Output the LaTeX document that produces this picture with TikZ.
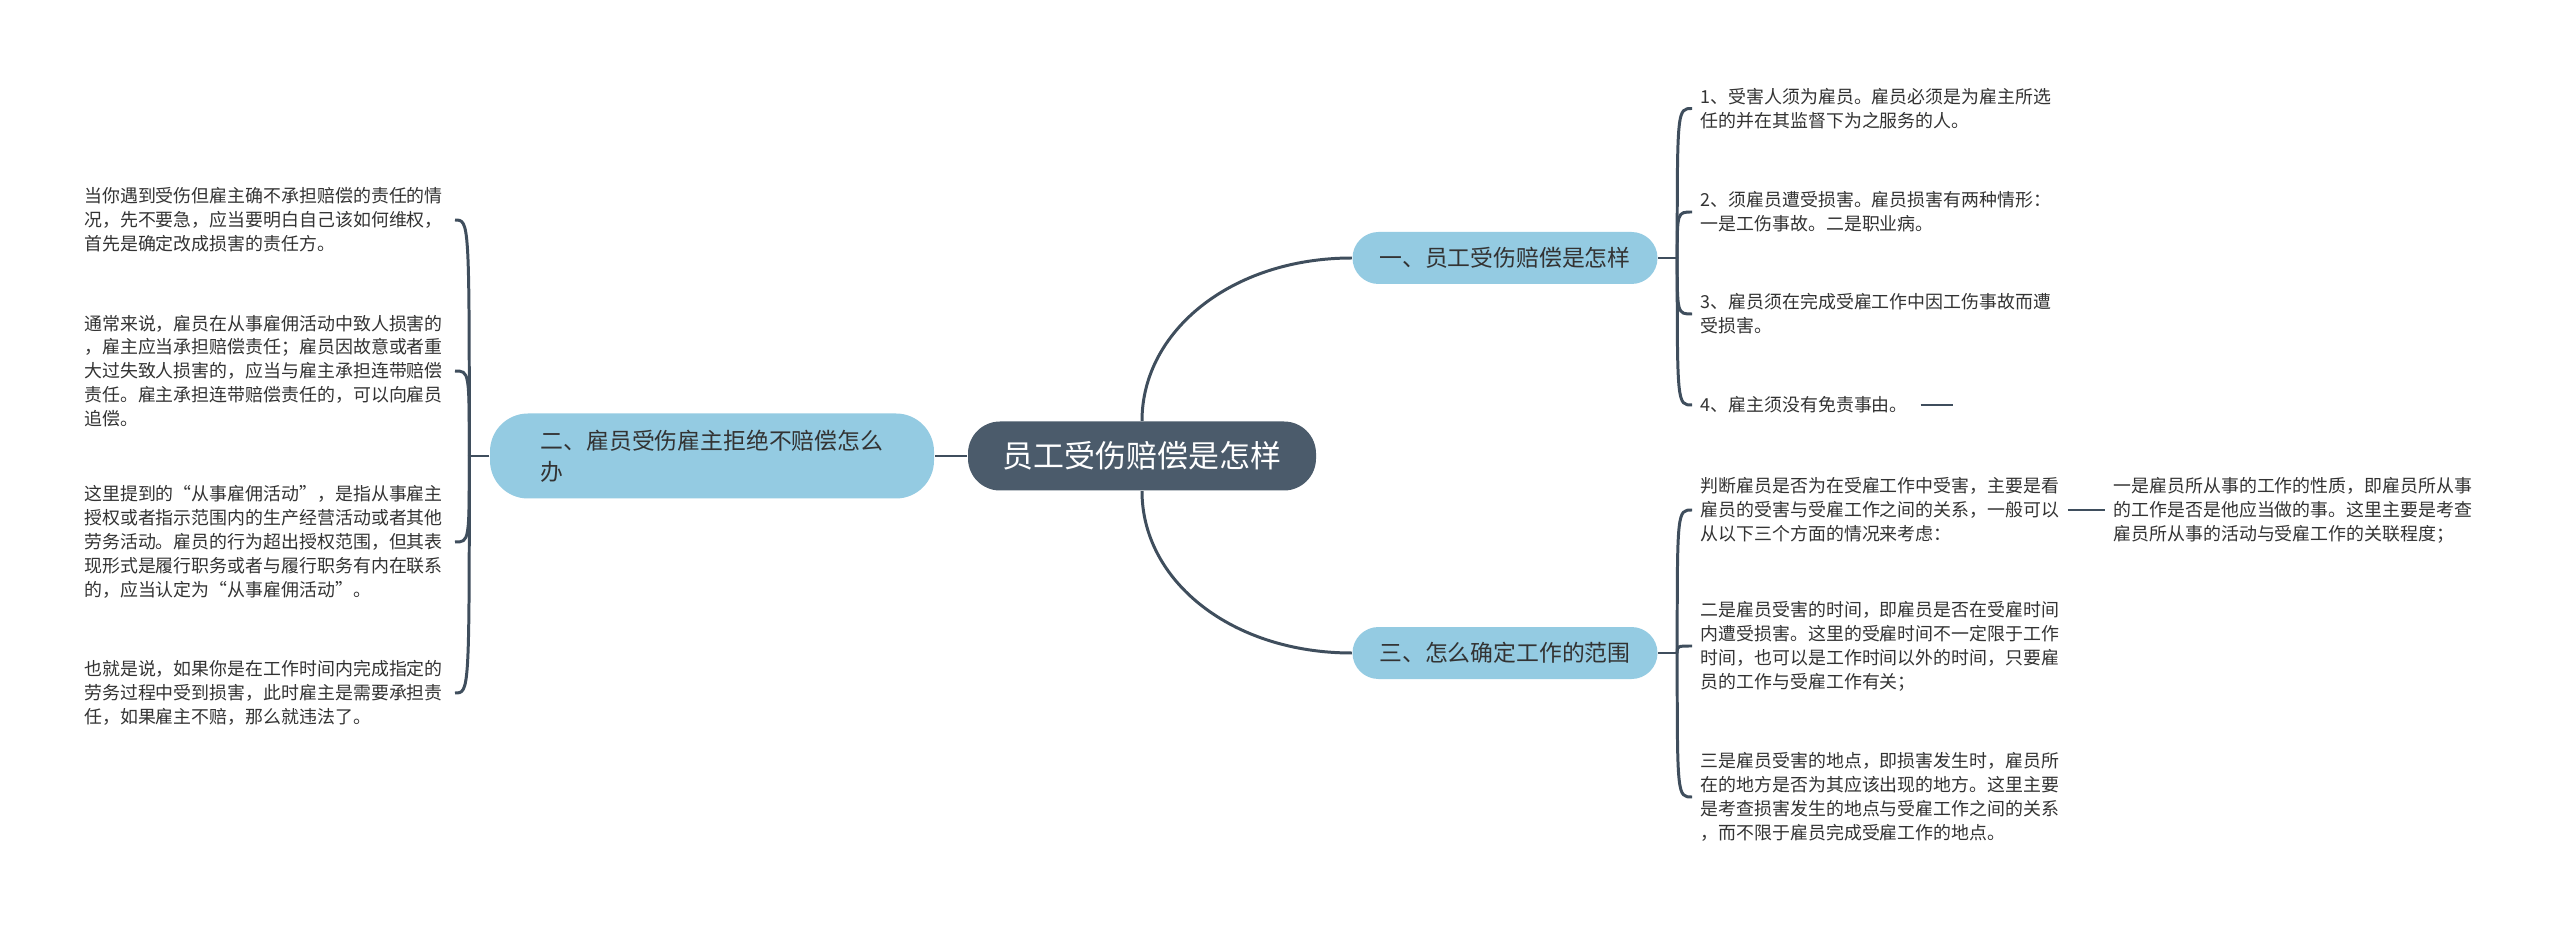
\documentclass[tikz,border=0pt]{standalone}
\usepackage{fontspec}
\setmainfont{Noto Sans CJK SC}
\usepackage{tikz}
\usetikzlibrary{
positioning,
calc
}
\definecolor{MapSlate}{HTML}{4B5B6B}
\definecolor{MapSky}{HTML}{94CBE2}
\definecolor{MapLine}{HTML}{3F4E5D}
\definecolor{MapInk}{HTML}{333333}

\begin{document}
\begin{tikzpicture}[
rootnode/.style={fill=MapSlate, text=white, rounded corners=0.32cm, minimum width=3.48cm, minimum height=0.69cm, inner sep=0pt, font={\fontsize{8.8}{10}\selectfont}},
topicnode/.style={fill=MapSky, text=MapInk, rounded corners=0.26cm, minimum width=3.05cm, minimum height=0.52cm, inner sep=0pt, font={\fontsize{6.5}{8.8}\selectfont}},
leafnode/.style={text=MapInk, align=left, inner xsep=0.08cm, inner ysep=0pt, font={\fontsize{5.1}{6.8}\selectfont}},
leftleaf/.style={leafnode, anchor=east, text width=3.62cm},
maplink/.style={draw=MapLine, line width=0.85pt}
]
\path[fill=white] (0,0) rectangle (25.6,9.29);
\node[rootnode] (root) at (11.42,4.73) {员工受伤赔偿是怎样};
\node[topicnode, minimum width=4.44cm, minimum height=0.85cm, rounded corners=0.38cm, align=left] (t2) at (7.12,4.73) {二、雇员受伤雇主拒绝不赔偿怎么\\办};
\node[topicnode] (t1) at (15.05,6.71) {一、员工受伤赔偿是怎样};
\node[topicnode] (t3) at (15.05,2.76) {三、怎么确定工作的范围};

\node[leafnode, anchor=west] (r1) at (16.92,8.205) {1、受害人须为雇员。雇员必须是为雇主所选\\任的并在其监督下为之服务的人。};
\node[leafnode, anchor=west] (r2) at (16.92,7.17) {2、须雇员遭受损害。雇员损害有两种情形：\\一是工伤事故。二是职业病。};
\node[leafnode, anchor=west] (r3) at (16.92,6.15) {3、雇员须在完成受雇工作中因工伤事故而遭\\受损害。};
\node[leafnode, anchor=west] (r4) at (16.92,5.24) {4、雇主须没有免责事由。};
\coordinate (r4x) at ($(r4.east)+(0.36,0)$);

\node[leafnode, anchor=west] (r5) at (16.92,4.19) {判断雇员是否为在受雇工作中受害，主要是看\\雇员的受害与受雇工作之间的关系，一般可以\\从以下三个方面的情况来考虑：};
\node[leafnode, anchor=west] (r6) at (16.92,2.83) {二是雇员受害的时间，即雇员是否在受雇时间\\内遭受损害。这里的受雇时间不一定限于工作\\时间，也可以是工作时间以外的时间，只要雇\\员的工作与受雇工作有关；};
\node[leafnode, anchor=west] (r7) at (16.92,1.32) {三是雇员受害的地点，即损害发生时，雇员所\\在的地方是否为其应该出现的地方。这里主要\\是考查损害发生的地点与受雇工作之间的关系\\，而不限于雇员完成受雇工作的地点。};
\node[leafnode, right=0.37cm of r5] (r5a) {一是雇员所从事的工作的性质，即雇员所从事\\的工作是否是他应当做的事。这里主要是考查\\雇员所从事的活动与受雇工作的关联程度；};

\node[leftleaf] (la) at (4.55,7.09) {当你遇到受伤但雇主确不承担赔偿的责任的情\\况，先不要急，应当要明白自己该如何维权，\\首先是确定改成损害的责任方。};
\node[leftleaf] (lb) at (4.55,5.58) {通常来说，雇员在从事雇佣活动中致人损害的\\，雇主应当承担赔偿责任；雇员因故意或者重\\大过失致人损害的，应当与雇主承担连带赔偿\\责任。雇主承担连带赔偿责任的，可以向雇员\\追偿。};
\node[leftleaf] (lc) at (4.55,3.87) {这里提到的“从事雇佣活动”，是指从事雇主\\授权或者指示范围内的生产经营活动或者其他\\劳务活动。雇员的行为超出授权范围，但其表\\现形式是履行职务或者与履行职务有内在联系\\的，应当认定为“从事雇佣活动”。};
\node[leftleaf] (ld) at (4.55,2.36) {也就是说，如果你是在工作时间内完成指定的\\劳务过程中受到损害，此时雇主是需要承担责\\任，如果雇主不赔，那么就违法了。};

\draw[maplink] (root.west) -- (t2.east);
\draw[maplink] (root.north) .. controls +(0,0.9) and +(-1.2,0) .. (t1.west);
\draw[maplink] (root.south) .. controls +(0,-0.9) and +(-1.2,0) .. (t3.west);

\coordinate (j1) at ($(t1.east)+(0.19,0)$);
\draw[maplink] (t1.east) -- (j1);
\draw[maplink] (j1) .. controls (j1 |- r1.west) and (j1 |- r1.west) .. (r1.west);
\draw[maplink] (j1) .. controls (j1 |- r2.west) and (j1 |- r2.west) .. (r2.west);
\draw[maplink] (j1) .. controls (j1 |- r3.west) and (j1 |- r3.west) .. (r3.west);
\draw[maplink] (j1) .. controls (j1 |- r4.west) and (j1 |- r4.west) .. (r4.west);
\draw[maplink, shorten <=0.04cm] (r4.east) -- (r4x);

\coordinate (j3) at ($(t3.east)+(0.19,0)$);
\draw[maplink] (t3.east) -- (j3);
\draw[maplink] (j3) .. controls (j3 |- r5.west) and (j3 |- r5.west) .. (r5.west);
\draw[maplink] (j3) .. controls (j3 |- r6.west) and (j3 |- r6.west) .. (r6.west);
\draw[maplink] (j3) .. controls (j3 |- r7.west) and (j3 |- r7.west) .. (r7.west);
\draw[maplink] (r5.east) -- (r5a.west);

\coordinate (j2) at ($(t2.west)+(-0.2,0)$);
\draw[maplink] (t2.west) -- (j2);
\draw[maplink] (j2) .. controls (j2 |- la.east) and (j2 |- la.east) .. (la.east);
\draw[maplink] (j2) .. controls (j2 |- lb.east) and (j2 |- lb.east) .. (lb.east);
\draw[maplink] (j2) .. controls (j2 |- lc.east) and (j2 |- lc.east) .. (lc.east);
\draw[maplink] (j2) .. controls (j2 |- ld.east) and (j2 |- ld.east) .. (ld.east);
\end{tikzpicture}
\end{document}
